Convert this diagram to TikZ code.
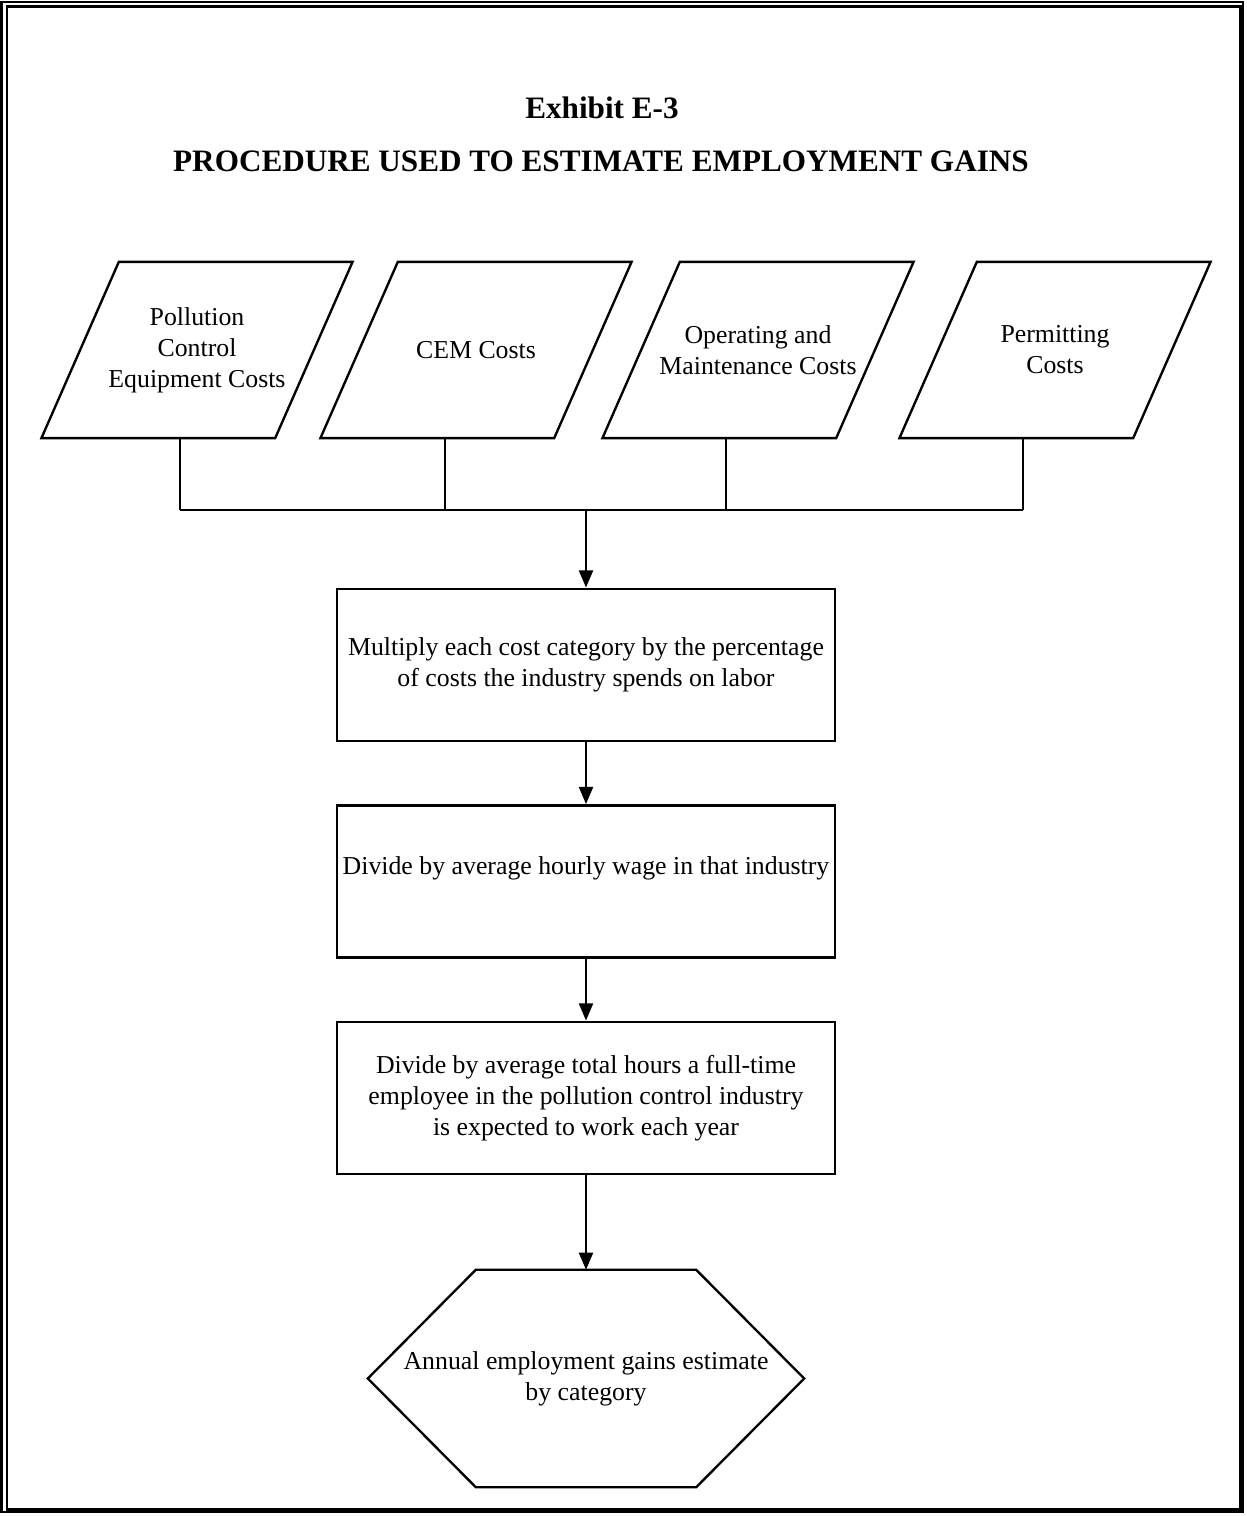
\documentclass[tikz,border=0pt]{standalone}
\usepackage{fontspec}
\setmainfont{Liberation Serif}
\usetikzlibrary{arrows.meta}

\begin{document}
\begin{tikzpicture}[x=0.465pt, y=-0.465pt, line width=1.1pt,
  font=\fontsize{12}{14.4}\selectfont,
  head/.style = {font=\fontsize{14.5}{17}\selectfont\bfseries},
  para/.style = {rectangle, minimum width=71.6pt, minimum height=80.9pt, inner sep=0pt},
  stepbox/.style = {draw, rectangle, line width=1.3pt, minimum width=231.6pt, minimum height=70.7pt, inner sep=1pt, align=center},
  result/.style = {rectangle, minimum width=101.4pt, minimum height=100pt, inner sep=0pt},
  arr/.style = {-{Triangle[length=8pt,width=6.5pt]}}]
\useasboundingbox (0,0) rectangle (1247,1516);

% frame
\draw (1.5,2) rectangle (1243,1512);
\draw (7,6.5) rectangle (1240.5,1509.5);

% titles
\node[head] (exhibit) at (602,108) {Exhibit E-3};
\node[head] (title) at (601,161) {PROCEDURE USED TO ESTIMATE EMPLOYMENT GAINS};

% cost categories
\node[para, label={[align=center]center:Pollution\\Control\\Equipment Costs}] (pce) at (197,350) {};
\node[para, label={[align=center]center:CEM Costs}] (cem) at (476,350) {};
\node[para, label={[align=center]center:Operating and\\Maintenance Costs}] (om) at (758,350) {};
\node[para, label={[align=center]center:Permitting\\Costs}] (perm) at (1055,350) {};

\foreach \n in {pce,cem,om,perm}
  \draw (\n.north west) -- ([xshift=36pt]\n.north east) -- (\n.south east) -- ([xshift=-36pt]\n.south west) -- cycle;

% steps
\node[stepbox] (labor) at (586,665) {Multiply each cost category by the percentage\\of costs the industry spends on labor};
\node[stepbox] (wage) at (586,881.5) {Divide by average hourly wage in that industry\\ \mbox{}};
\node[stepbox] (hours) at (586,1098) {Divide by average total hours a full-time\\employee in the pollution control industry\\is expected to work each year};

% result
\node[result, label={[align=center]center:Annual employment gains estimate\\by category}] (gains) at (586,1378.5) {};
\draw (gains.north west) -- (gains.north east) -- ([xshift=50.2pt]gains.east) -- (gains.south east)
  -- (gains.south west) -- ([xshift=-50.2pt]gains.west) -- cycle;

% bus
\coordinate (b1) at (180,510);
\coordinate (b2) at (445,510);
\coordinate (b3) at (726,510);
\coordinate (b4) at (1023,510);
\coordinate (bj) at (586,510);

\draw (pce.south -| b1) -- (b1);
\draw (cem.south -| b2) -- (b2);
\draw (om.south -| b3) -- (b3);
\draw (perm.south -| b4) -- (b4);
\draw (b1) -- (b4);

\draw[arr] (bj) -- (labor);
\draw[arr] (labor) -- (wage);
\draw[arr] (wage) -- (hours);
\draw[arr] (hours) -- (gains);

\end{tikzpicture}
\end{document}
